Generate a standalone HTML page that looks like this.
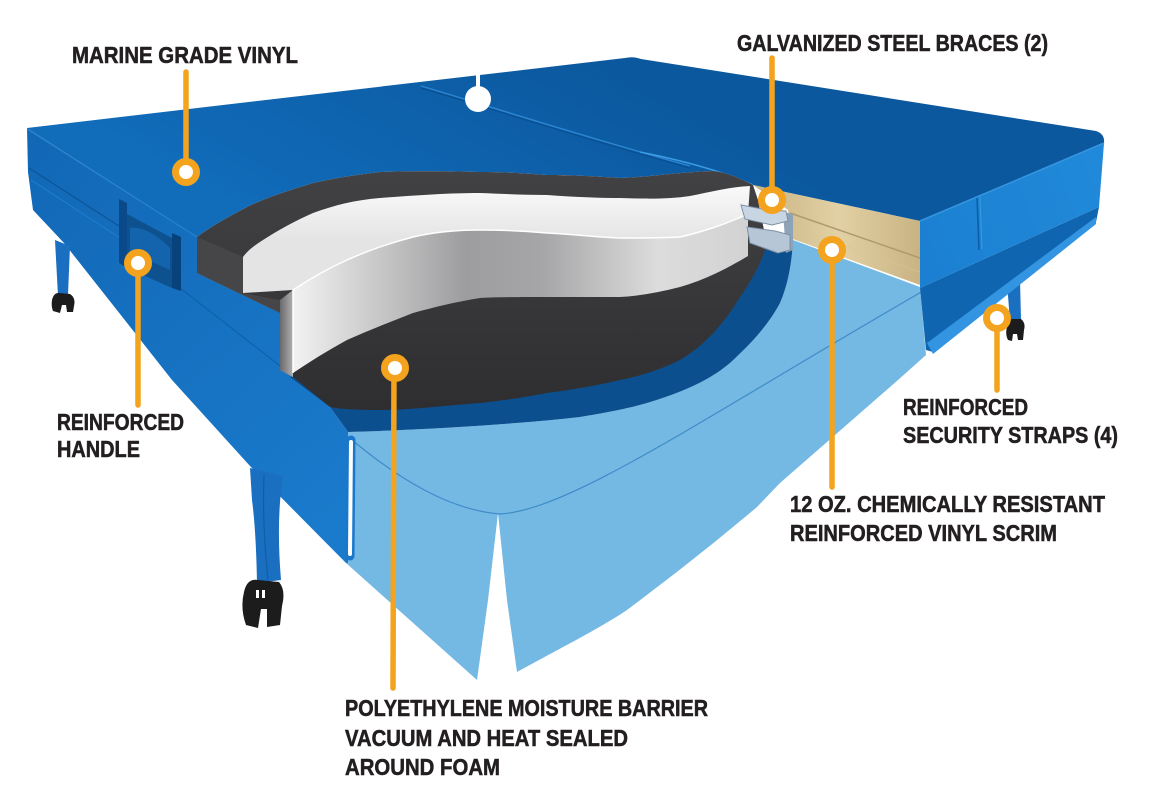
<!DOCTYPE html>
<html><head><meta charset="utf-8"><style>
html,body{margin:0;padding:0;background:#fff;}
svg{display:block}
text{font-family:"Liberation Sans",sans-serif;font-weight:bold;font-size:23px;fill:#231f20;stroke:#231f20;stroke-width:0.55px}
</style></head><body>
<svg width="1149" height="800" viewBox="0 0 1149 800" xmlns="http://www.w3.org/2000/svg">
<defs>
 <linearGradient id="topG" gradientUnits="userSpaceOnUse" x1="600" y1="60" x2="450" y2="330">
  <stop offset="0" stop-color="#0b589e"/><stop offset="1" stop-color="#116cba"/>
 </linearGradient>
 <linearGradient id="frontG" gradientUnits="userSpaceOnUse" x1="30" y1="150" x2="350" y2="500">
  <stop offset="0" stop-color="#1268b6"/><stop offset="1" stop-color="#1a7acb"/>
 </linearGradient>
 <linearGradient id="rfG" gradientUnits="userSpaceOnUse" x1="920" y1="250" x2="1100" y2="180">
  <stop offset="0" stop-color="#1b80d1"/><stop offset="1" stop-color="#2189d9"/>
 </linearGradient>
 <linearGradient id="darkG" gradientUnits="userSpaceOnUse" x1="0" y1="170" x2="0" y2="410">
  <stop offset="0" stop-color="#424244"/><stop offset="0.5" stop-color="#38383a"/><stop offset="1" stop-color="#2e2e30"/>
 </linearGradient>
 <linearGradient id="whiteG" gradientUnits="userSpaceOnUse" x1="0" y1="190" x2="0" y2="240">
  <stop offset="0" stop-color="#f8f8f8"/><stop offset="1" stop-color="#e4e4e4"/>
 </linearGradient>
 <linearGradient id="grayG" gradientUnits="userSpaceOnUse" x1="293" y1="0" x2="748" y2="0">
  <stop offset="0" stop-color="#f2f2f2"/><stop offset="0.15" stop-color="#d0d0d0"/>
  <stop offset="0.38" stop-color="#9d9d9f"/><stop offset="0.55" stop-color="#a6a6a8"/>
  <stop offset="0.8" stop-color="#dcdcdc"/><stop offset="1" stop-color="#d2d2d3"/>
 </linearGradient>
 <linearGradient id="stepG" gradientUnits="userSpaceOnUse" x1="280" y1="0" x2="293" y2="0">
  <stop offset="0" stop-color="#6a6a6c"/><stop offset="1" stop-color="#b0b0b2"/>
 </linearGradient>
 <linearGradient id="scrimG" gradientUnits="userSpaceOnUse" x1="755" y1="0" x2="920" y2="0">
  <stop offset="0" stop-color="#c8b282"/><stop offset="0.5" stop-color="#e2d1a4"/><stop offset="1" stop-color="#c9b383"/>
 </linearGradient>
</defs>

<!-- light blue moisture barrier -->
<path d="M348,432 C420,430 520,424 580,417 C610,412 630,408 647,403 C690,390 712,378 730,363 C755,340 770,322 780,303 C788,285 792,262 793,240 L920,287 L926,355 L898,380 L780,483 L757,507 C700,555 660,585 627,610 C600,628 570,643 517,672 L507,600 L498,513 L488,600 L477,680 L346,563 Z" fill="#74b8e4"/>
<path d="M352,440 C400,480 450,510 500,514 C570,510 700,420 923,291" fill="none" stroke="#3d8cc6" stroke-width="1.2"/>

<!-- right cover: skirt & front face -->
<path d="M1007,282 L1020,280 L1021,320 L1010,322 Z" fill="#1a6fc0"/>
<path d="M920,288 L1099,207 L1096,222 L933,352 L926,350 Z" fill="#0f65b0"/>
<path d="M927,343 L1096,217 L1096,224 L933,354 Z" fill="#3394e2"/>
<path d="M920,221 L1104,143 L1099,207 L920,288 Z" fill="url(#rfG)"/>
<path d="M977,197 L979,250" stroke="#0d5fa8" stroke-width="1.6"/>
<path d="M980,197 L982,249" stroke="#3a9be4" stroke-width="1"/>

<!-- front-left face -->
<path d="M27,128 L197,237 L197,273 L280,313 L280,370 L293,377 L330,407 L348,432 L348,563 L346,563 L250,466 L172,380 L64,243 L33,210 L28,172 Z" fill="url(#frontG)"/>
<path d="M29,168 L122,228" stroke="#0c5599" stroke-width="1.2"/>
<path d="M31,180 L120,238" stroke="#1f80d0" stroke-width="1"/>
<path d="M180,288 L293,376" stroke="#0d5ea8" stroke-width="1"/>

<!-- top face -->
<path d="M27,128 L625,58 Q633,56 641,59 L1096,131 Q1105,134 1104,143 L920,221 L753,185 C740,178 725,172 713,171 C680,172 650,177 620,178 C590,176 570,175 547,175 C520,173 500,172 480,172 C440,171 410,171 380,172 C355,175 335,178 313,183 C290,190 265,198 247,207 C228,217 210,227 197,237 Z" fill="url(#topG)"/>
<path d="M27,129 L197,237" stroke="#2a86d4" stroke-width="1"/>
<path d="M920,221 L1104,143" stroke="#3596e0" stroke-width="1.5"/>
<path d="M421,88 C470,102 560,132 690,168" fill="none" stroke="#0a4f90" stroke-width="1.2"/>
<path d="M421,86 C470,100 560,130 690,166" fill="none" stroke="#2b86d2" stroke-width="1.4"/>
<path d="M640,152 C680,160 720,170 753,185" fill="none" stroke="#3b9be3" stroke-width="1.6"/>

<!-- handle -->
<path d="M119,199 L127,203 L127,268 L119,263 Z" fill="#0b4a8a"/>
<path d="M127,214 L172,238 L172,288 L127,268 Z" fill="#0d528f"/>
<path d="M130,228 C145,226 160,238 170,248 L170,270 L130,252 Z" fill="#1463ad"/>
<path d="M172,233 L181,237 L181,291 L172,288 Z" fill="#08427c"/>

<!-- dark rim -->
<path d="M290,377 L330,407 L348,432 C420,430 520,424 580,417 C610,412 630,408 647,403 C690,390 712,378 730,363 C755,340 770,322 780,303 C788,285 792,262 793,240 L775,232 L760,252 Z" fill="#0c4f8e"/>
<!-- dark cut -->
<path d="M197,237 C210,227 228,217 247,207 C265,198 290,190 313,183 C335,178 355,175 380,172 C410,171 440,171 480,172 C500,172 520,173 547,175 C570,175 590,176 620,178 C650,177 680,172 713,171 C725,172 740,178 753,185 L758,200 L767,245 C760,265 752,280 740,297 C720,330 700,348 680,360 C660,370 640,376 620,380 C595,386 570,390 547,393 C520,398 500,401 480,403 C440,406 410,410 380,410 C355,410 340,409 330,407 L293,377 L280,370 L280,313 L197,273 Z" fill="url(#darkG)"/>
<!-- dark block face -->
<path d="M197,237 L243,257 L243,293 L280,300 L280,313 L197,273 Z" fill="#464648"/>
<!-- gray step strip -->
<path d="M280,300 L293,290 L293,377 L280,370 Z" fill="url(#stepG)"/>
<!-- white foam top face -->
<path d="M243,257 C248,250 255,245 263,240 C280,229 297,220 313,213 C335,205 355,200 380,198 C420,195 450,193 480,193 C505,194 525,195 547,195 C575,197 600,198 620,198 C650,199 670,199 690,196 C710,192 730,187 750,186 L748,214 C730,222 710,230 680,237 C660,238 640,238 620,238 C595,237 570,234 547,233 C525,231 500,230 480,230 C450,230 430,233 413,237 C390,243 367,251 347,260 C325,270 308,280 293,290 L243,293 Z" fill="url(#whiteG)"/>
<!-- gray foam front face -->
<path d="M293,290 C308,280 325,270 347,260 C367,251 390,243 413,237 C430,233 450,230 480,230 C500,230 525,231 547,233 C570,234 595,237 620,238 C640,238 660,238 680,237 C710,230 730,222 748,214 L748,256 C728,268 705,280 680,287 C660,292 640,296 620,297 C595,297 570,297 547,297 C520,297 500,297 480,298 C455,302 435,307 413,313 C390,322 367,331 347,340 C325,352 308,363 293,373 Z" fill="url(#grayG)"/>
<path d="M293,290 C308,280 325,270 347,260 C367,251 390,243 413,237 C430,233 450,230 480,230 C500,230 525,231 547,233 C570,234 595,237 620,238 C640,238 660,238 680,237 C710,230 730,222 748,214" fill="none" stroke="#ffffff" stroke-width="1.5"/>
<path d="M293,290 L293,373" stroke="#ffffff" stroke-width="1.5"/>

<!-- scrim -->
<path d="M753,185 L920,221 L920,285 L790,238 L788,210 Z" fill="url(#scrimG)"/>
<path d="M790,213 L920,258" stroke="#b09a6a" stroke-width="1.5"/>
<path d="M790,226 L920,272" stroke="#d8c594" stroke-width="1" opacity="0.6"/>
<!-- brace -->
<path d="M783,212 L793,214 L793,250 L786,253 Z" fill="#8fa3b8"/>
<path d="M741,205 L768,210 L786,211 L788,221 L772,225 L745,219 Z" fill="#c8d5e2" stroke="#7d91a6" stroke-width="1"/>
<path d="M747,227 L775,231 L790,235 L790,250 L778,253 L750,243 Z" fill="#b6c6d6" stroke="#7d91a6" stroke-width="1"/>

<!-- front corner slit -->
<path d="M351,440 L350,556" stroke="#1a78cc" stroke-width="9" stroke-linecap="round"/>
<path d="M351,442 L350,554" stroke="#ffffff" stroke-width="4" stroke-linecap="round"/>

<!-- legs -->
<path d="M55,240 L70,246 L68,295 L58,296 Z" fill="#1a6fc0"/>
<path d="M52,300 Q54,292 60,293 L70,294 Q76,298 74,306 L73,312 L67,312 L66,305 L62,305 L60,313 L53,311 Q51,306 52,300 Z" fill="#1c1c1c"/>
<path d="M250,468 L283,476 Q276,520 281,580 L257,583 Q256,530 252,500 Z" fill="#1a6fc0"/>
<path d="M264,475 Q262,520 268,580" stroke="#0f5ea8" stroke-width="1.2" fill="none"/>
<path d="M244,592 Q247,578 258,580 L279,582 Q286,590 282,606 L280,625 L267,627 L267,609 L261,609 L258,628 L246,625 Q240,608 244,592 Z" fill="#1c1c1c"/>
<rect x="256" y="590" width="3" height="8" fill="#fff"/><rect x="262" y="590" width="3" height="8" fill="#fff"/>
<path d="M1007,327 Q1009,318 1014,319 L1021,319 Q1026,323 1024,330 L1023,340 L1018,340 L1017,334 L1013,334 L1012,341 L1008,340 Q1005,334 1007,327 Z" fill="#1c1c1c"/>

<!-- white loop -->
<path d="M478,73 L478,90" stroke="#fff" stroke-width="4"/>
<circle cx="478" cy="99" r="13" fill="#fff"/>

<!-- markers -->
<g stroke="#f3a31d" stroke-width="5.5" stroke-linecap="round" fill="none">
 <path d="M186,72 L186,160"/>
 <path d="M772,58 L772,190"/>
 <path d="M138,263 L138,405"/>
 <path d="M832,250 L832,487"/>
 <path d="M997,318 L997,390"/>
 <path d="M394,368 L393,688"/>
</g>
<g stroke="#f3a31d" stroke-width="7" fill="#fff">
 <circle cx="186" cy="172" r="10.5"/>
 <circle cx="772" cy="200" r="10.5"/>
 <circle cx="138" cy="263" r="10.5"/>
 <circle cx="832" cy="250" r="10.5"/>
 <circle cx="997" cy="318" r="10.5"/>
 <circle cx="395" cy="368" r="10.5"/>
</g>

<!-- labels -->
<text x="72" y="63" textLength="226" lengthAdjust="spacingAndGlyphs">MARINE GRADE VINYL</text>
<text x="737" y="51" textLength="311" lengthAdjust="spacingAndGlyphs">GALVANIZED STEEL BRACES (2)</text>
<text x="57" y="430" textLength="127" lengthAdjust="spacingAndGlyphs">REINFORCED</text>
<text x="57" y="457" textLength="83" lengthAdjust="spacingAndGlyphs">HANDLE</text>
<text x="903" y="415" textLength="125" lengthAdjust="spacingAndGlyphs">REINFORCED</text>
<text x="903" y="443" textLength="215" lengthAdjust="spacingAndGlyphs">SECURITY STRAPS (4)</text>
<text x="790" y="512" textLength="315" lengthAdjust="spacingAndGlyphs">12 OZ. CHEMICALLY RESISTANT</text>
<text x="790" y="541" textLength="267" lengthAdjust="spacingAndGlyphs">REINFORCED VINYL SCRIM</text>
<text x="345" y="716" textLength="363" lengthAdjust="spacingAndGlyphs">POLYETHYLENE MOISTURE BARRIER</text>
<text x="345" y="746" textLength="283" lengthAdjust="spacingAndGlyphs">VACUUM AND HEAT SEALED</text>
<text x="345" y="775" textLength="155" lengthAdjust="spacingAndGlyphs">AROUND FOAM</text>
</svg>
</body></html>
